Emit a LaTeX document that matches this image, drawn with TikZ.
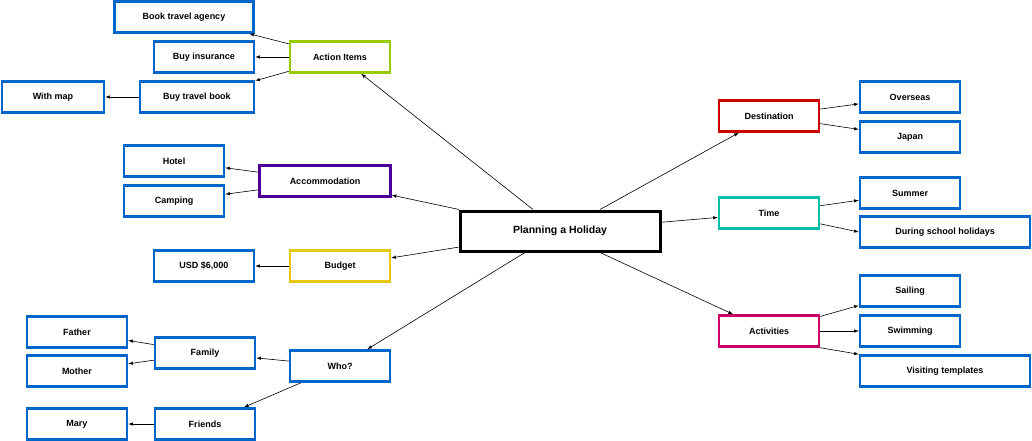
\documentclass[tikz,border=0pt]{standalone}
\usepackage{fontspec}
\setmainfont{Liberation Sans}
\usetikzlibrary{arrows}
\definecolor{leafBlue}{RGB}{0,102,204}
\definecolor{actGreen}{RGB}{153,204,0}
\definecolor{accPurple}{RGB}{76,0,153}
\definecolor{budYellow}{RGB}{230,200,20}
\definecolor{destRed}{RGB}{204,0,0}
\definecolor{timeTeal}{RGB}{0,190,170}
\definecolor{actMagenta}{RGB}{204,0,102}
\tikzset{>=latex,every node/.style={font=\fontsize{9}{11}\selectfont\bfseries}}
\tikzset{
  leafNode/.style={shape=rectangle,draw=leafBlue,line width=2.5pt,fill=white,minimum width=100pt,minimum height=31pt,inner sep=0pt},
  topicNode/.style={shape=rectangle,line width=2.5pt,fill=white,minimum width=100pt,minimum height=31pt,inner sep=0pt},
  rootNode/.style={shape=rectangle,draw=black,line width=3pt,fill=white,minimum width=200pt,minimum height=40pt,font=\fontsize{10.5}{12}\selectfont\bfseries},
  mapLink/.style={draw=black,->,line width=0.6pt}
}
\begin{document}
\begin{tikzpicture}[x=1pt,y=-1pt]
  \useasboundingbox (0,0) rectangle (1032,441);
  \node (holiday) [rootNode] at (560,231) {Planning a Holiday};
  % left side
  \node (action) [topicNode,draw=actGreen] at (340,57) {Action Items};
  \node (agency) [leafNode,minimum width=139pt] at (184,17) {Book travel agency};
  \node (insurance) [leafNode] at (204,57) {Buy insurance};
  \node (book) [leafNode,minimum width=114pt] at (197,97) {Buy travel book};
  \node (map) [leafNode,minimum width=102pt] at (53,97) {With map};
  \node (accom) [topicNode,draw=accPurple,minimum width=131pt] at (325,181) {Accommodation};
  \node (hotel) [leafNode] at (174,161) {Hotel};
  \node (camping) [leafNode] at (174,201) {Camping};
  \node (budget) [topicNode,draw=budYellow] at (340,266) {Budget};
  \node (usd) [leafNode] at (204,266) {USD \$6,000};
  \node (who) [topicNode,draw=leafBlue] at (340,366) {Who?};
  \node (family) [leafNode] at (205,353) {Family};
  \node (friends) [leafNode] at (205,424) {Friends};
  \node (father) [leafNode] at (77,332) {Father};
  \node (mother) [leafNode] at (77,371) {Mother};
  \node (mary) [leafNode] at (77,424) {Mary};
  % right side
  \node (dest) [topicNode,draw=destRed] at (769,116) {Destination};
  \node (overseas) [leafNode] at (910,97) {Overseas};
  \node (japan) [leafNode] at (910,137) {Japan};
  \node (time) [topicNode,draw=timeTeal] at (769,213) {Time};
  \node (summer) [leafNode] at (910,193) {Summer};
  \node (school) [leafNode,minimum width=170pt] at (945,232) {During school holidays};
  \node (activ) [topicNode,draw=actMagenta] at (769,331) {Activities};
  \node (sailing) [leafNode] at (910,291) {Sailing};
  \node (swimming) [leafNode] at (910,331) {Swimming};
  \node (visiting) [leafNode,minimum width=170pt] at (945,371) {Visiting templates};
  \path
    ([xshift=-27pt]holiday.north) edge [mapLink] (action)
    (holiday) edge [mapLink] (accom)
    (holiday) edge [mapLink] (budget)
    ([xshift=-35pt]holiday.south) edge [mapLink] (who)
    ([xshift=40pt]holiday.north) edge [mapLink] (dest)
    (holiday) edge [mapLink] (time)
    ([xshift=40pt]holiday.south) edge [mapLink] (activ)
    (action) edge [mapLink] (agency)
    (action) edge [mapLink] (insurance)
    (action) edge [mapLink] (book)
    (book) edge [mapLink] (map)
    (accom) edge [mapLink] (hotel)
    (accom) edge [mapLink] (camping)
    (budget) edge [mapLink] (usd)
    (who) edge [mapLink] (family)
    (who) edge [mapLink] (friends)
    (family) edge [mapLink] (father)
    (family) edge [mapLink] (mother)
    (friends) edge [mapLink] (mary)
    (dest) edge [mapLink] (overseas)
    (dest) edge [mapLink] (japan)
    (time) edge [mapLink] (summer)
    (time) edge [mapLink] (school.west)
    (activ) edge [mapLink] (sailing)
    (activ) edge [mapLink] (swimming)
    (activ.south east) edge [mapLink] (visiting.north west);
\end{tikzpicture}
\end{document}
